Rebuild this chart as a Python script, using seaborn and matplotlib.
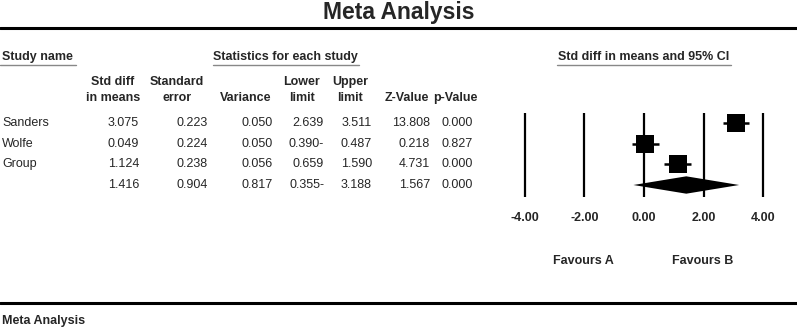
import numpy as np
import matplotlib
matplotlib.use("Agg")
import matplotlib.pyplot as plt
import matplotlib.transforms as mtrans
import pandas as pd
import seaborn as sns

# data
studies = ["Sanders", "Wolfe", "Group", ""]
std_diff = [3.075, 0.049, 1.124, 1.416]
std_err = [0.223, 0.224, 0.238, 0.904]
variance = [0.050, 0.050, 0.056, 0.817]
lower = [2.639, -0.390, 0.659, -0.355]
upper = [3.511, 0.487, 1.590, 3.188]
z_value = [13.808, 0.218, 4.731, 1.567]
p_value = [0.000, 0.827, 0.000, 0.000]
tick_vals = [-4, -2, 0, 2, 4]

sns.set_style("white")
plt.rcParams["font.family"] = ["Liberation Sans", "DejaVu Sans"]

W, H = 797, 328
fig = plt.figure(figsize=(W / 100, H / 100), dpi=100)

def fx(px):
    return px / W

def fy(py):
    return 1 - py / H

# forest plot axes: x=0 at 644px, 29.85 px per unit, rows at ~20.7px spacing
x0, ppu = 644, 29.85
xl = (-4.5, 4.5)
row_px = 20.67
ytop, ybot = 113, 197
ylim = (3 + (ybot - 185) / row_px, -(123 - ytop) / row_px)
ax = fig.add_axes([fx(x0 + xl[0] * ppu), fy(ybot), (xl[1] - xl[0]) * ppu / W, (ybot - ytop) / H])
ax.set_xlim(*xl)
ax.set_ylim(*ylim)
for s in ax.spines.values():
    s.set_visible(False)
ax.set_yticks([])
ax.set_xticks(tick_vals)
ax.set_xticklabels([f"{v:.2f}" for v in tick_vals], fontsize=9, fontweight="bold")
ax.tick_params(axis="x", length=0, pad=11)
ax.vlines(tick_vals, ylim[1], ylim[0], color="black", lw=1.6)

df = pd.DataFrame({"study": studies[:3], "est": std_diff[:3], "row": [0, 1, 2]})
ax.hlines(df["row"], lower[:3], upper[:3], color="black", lw=1.8, zorder=3)
sns.scatterplot(data=df, x="est", y="row", marker="s", s=155, color="black",
                edgecolor="black", linewidth=0, ax=ax, legend=False, zorder=4)
ax.set_xlabel("")
ax.set_ylabel("")
# summary diamond
r, hh = 3, 0.42
ax.fill([lower[3], std_diff[3], upper[3], std_diff[3]], [r, r - hh, r, r + hh],
        color="black", zorder=4, lw=0)

ax.text(fx(583), fy(261), "Favours A", transform=fig.transFigure, ha="center",
        va="center", fontsize=9, fontweight="bold")
ax.text(fx(703), fy(261), "Favours B", transform=fig.transFigure, ha="center",
        va="center", fontsize=9, fontweight="bold")

# title and rules
fig.text(0.5, fy(12), "Meta Analysis", ha="center", va="center", fontsize=16.5, fontweight="bold")
fig.add_artist(plt.Line2D([0, 1], [fy(28), fy(28)], color="black", lw=2.2, transform=fig.transFigure))
fig.add_artist(plt.Line2D([0, 1], [fy(303), fy(303)], color="black", lw=2.2, transform=fig.transFigure))
fig.text(fx(2), fy(321), "Meta Analysis", ha="left", va="center", fontsize=9, fontweight="bold")

# section headers with underlines
heads = [("Study name", 2, "left", 0, 76), ("Statistics for each study", 285, "center", 213, 359),
         ("Std diff in means and 95% CI", 644, "center", 557, 731)]
for txt, x, ha, u0, u1 in heads:
    fig.text(fx(x), fy(57), txt, ha=ha, va="center", fontsize=9, fontweight="bold")
    fig.add_artist(plt.Line2D([fx(u0), fx(u1)], [fy(65), fy(65)], color="#888888",
                              lw=1.0, transform=fig.transFigure))

# column headers
col_right = [139, 208, 273, 324, 372, 430, 473]
col_heads = [("Std diff", "in means"), ("Standard", "error"), ("", "Variance"),
             ("Lower", "limit"), ("Upper", "limit"), ("", "Z-Value"), ("", "p-Value")]
col_centers = [113, 177, 246, 302, 350, 407, 455]
for (l1, l2), xc in zip(col_heads, col_centers):
    if l1:
        fig.text(fx(xc), fy(82), l1, ha="center", va="center", fontsize=9, fontweight="bold")
    fig.text(fx(xc), fy(98), l2, ha="center", va="center", fontsize=9, fontweight="bold")

# table body, rows aligned with forest rows
tr = mtrans.blended_transform_factory(fig.transFigure, ax.transData)
cols = [std_diff, std_err, variance, lower, upper, z_value, p_value]
for i, name in enumerate(studies):
    fig.text(fx(2), i, name, transform=tr, ha="left", va="center", fontsize=9)
    for vals, xr in zip(cols, col_right):
        v = vals[i]
        s = f"{abs(v):.3f}-" if v < 0 else f"{v:.3f}"
        fig.text(fx(xr), i, s, transform=tr, ha="right", va="center", fontsize=9)

fig.savefig("out.png", dpi=100)
